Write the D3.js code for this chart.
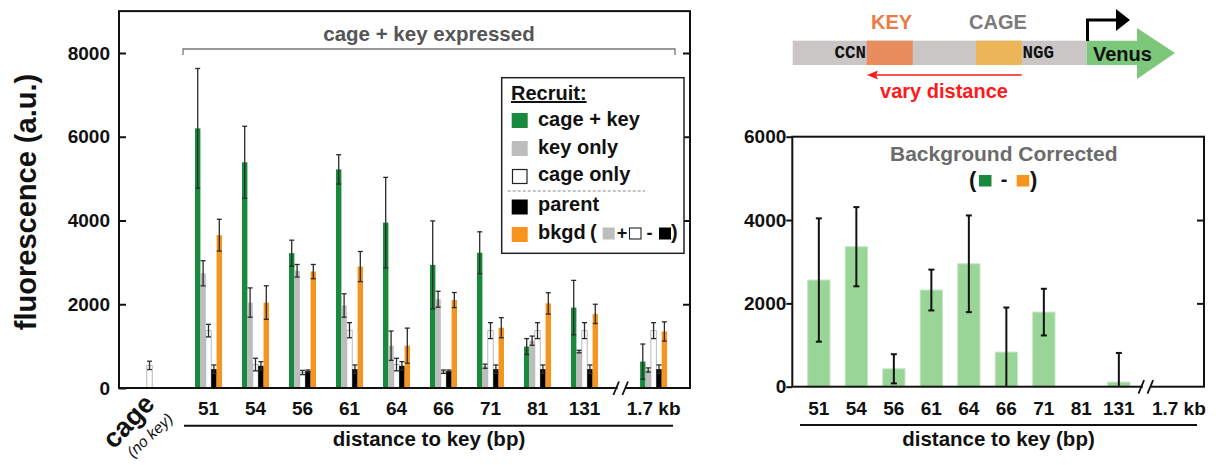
<!DOCTYPE html>
<html>
<head>
<meta charset="utf-8">
<script src="https://cdn.jsdelivr.net/npm/d3@7"></script>
<style>
  body { margin: 0; background: #fff; }
  svg { display: block; }
  text { font-family: "Liberation Sans", Arial, Helvetica, sans-serif; font-weight: bold; }
</style>
</head>
<body>
<svg id="fig" width="1220" height="465"></svg>
<script>
// ---- data ---------------------------------------------------------------
const distances = ["51", "54", "56", "61", "64", "66", "71", "81", "131", "1.7 kb"];
const seriesNames = ["cage + key", "key only", "cage only", "parent", "bkgd"];

const cageKey     = [6200, 5390, 3220, 5220, 3950, 2940, 3230,  990, 1920,  630];
const cageKeyErr  = [1430,  860,  310,  350, 1080, 1050,  500,  190,  650,  420];
const keyOnly     = [2740, 2040, 2800, 1970, 1010, 2120,  520, 1130,  870,  430];
const keyOnlyErr  = [ 300,  350,  150,  280,  350,  190,   50,  110,   30,   50];
const cageOnly    = [1370,  560,  370, 1380,  560,  390, 1370, 1370, 1370, 1370];
const cageOnlyErr = [ 150,  150,   50,  180,  150,   40,  190,  190,  190,  190];
const parent      = [ 450,  530,  410,  450,  530,  410,  450,  450,  450,  450];
const parentErr   = [ 100,  100,   20,  100,  100,   20,  100,  100,  100,  100];
const bkgd        = [3650, 2040, 2780, 2900, 1010, 2100, 1440, 2020, 1770, 1350];
const bkgdErr     = [ 380,  400,  170,  360,  420,  180,  240,  255,  230,  230];

// cage reporter alone (no key expressed)
const cageAlone = 540;
const cageAloneErr = 100;

// background corrected: (cage + key) - bkgd
const corrected    = [2560, 3360, 430, 2320, 2950,  830, 1790, 0, 110, 0];
const correctedErr = [1480,  950, 350,  490, 1160, 1070,  560, 0, 700, 0];

const yTicksLeft = [0, 2000, 4000, 6000, 8000];
const yTicksRight = [0, 2000, 4000, 6000];

// ---- setup --------------------------------------------------------------
const svg = d3.select("#fig");
const MONO = "\"Liberation Mono\", \"DejaVu Sans Mono\", monospace";

const values = [cageKey, keyOnly, cageOnly, parent, bkgd];
const errors = [cageKeyErr, keyOnlyErr, cageOnlyErr, parentErr, bkgdErr];
const fills = ["#178b3b", "#bdbdbd", "#ffffff", "#000000", "#f7941d"];
const strokes = ["none", "none", "#a8a8a8", "none", "none"];

// slot index of each group along the x axis (gap before the 1.7 kb group)
const slotOf = (i) => (i < 9 ? i : 9.47);
const cageSlot = -1.255;

function errorBar(g, cx, v, e, y, cap, color, width) {
  if (!e) return;
  const lo = Math.max(v - e, 0);
  const yTop = y(v + e), yBot = y(lo);
  g.append("line").attr("x1", cx).attr("x2", cx).attr("y1", yTop).attr("y2", yBot)
    .attr("stroke", color).attr("stroke-width", width);
  g.append("line").attr("x1", cx - cap / 2).attr("x2", cx + cap / 2).attr("y1", yTop).attr("y2", yTop)
    .attr("stroke", color).attr("stroke-width", width);
  if (v - e > 0) {
    g.append("line").attr("x1", cx - cap / 2).attr("x2", cx + cap / 2).attr("y1", yBot).attr("y2", yBot)
      .attr("stroke", color).attr("stroke-width", width);
  }
}

function styleAxis(a) {
  a.select(".domain").remove();
  a.selectAll("line").attr("stroke", "#111").attr("stroke-width", 2);
  a.selectAll("text").style("font-size", "19px").attr("fill", "#111");
}

// ---- left panel ---------------------------------------------------------
const L = { left: 119, right: 690, bottom: 388 };
const yL = d3.scaleLinear().domain([0, 8000]).range([388, 53]);
L.top = yL(9000);
const xL = d3.scaleLinear().domain([0, 1]).range([195, 242]);
const inner = d3.scaleBand().domain(seriesNames).range([0, 27]);

const gL = svg.append("g");

// bars
distances.forEach((d, i) => {
  const x0 = xL(slotOf(i));
  seriesNames.forEach((s, k) => {
    const v = values[k][i];
    gL.append("rect")
      .attr("x", x0 + inner(s))
      .attr("y", yL(v))
      .attr("width", inner.bandwidth())
      .attr("height", yL(0) - yL(v))
      .attr("fill", fills[k])
      .attr("stroke", strokes[k])
      .attr("stroke-width", 0.8);
  });
});
// cage-only control without key
{
  const x0 = xL(cageSlot);
  gL.append("rect")
    .attr("x", x0 + inner("cage only")).attr("y", yL(cageAlone))
    .attr("width", inner.bandwidth()).attr("height", yL(0) - yL(cageAlone))
    .attr("fill", "#fff").attr("stroke", "#a8a8a8").attr("stroke-width", 0.8);
  errorBar(gL, x0 + inner("cage only") + inner.bandwidth() / 2, cageAlone, cageAloneErr, yL, 5, "#333", 1.3);
}
// error bars
distances.forEach((d, i) => {
  const x0 = xL(slotOf(i));
  seriesNames.forEach((s, k) => {
    errorBar(gL, x0 + inner(s) + inner.bandwidth() / 2, values[k][i], errors[k][i], yL, 5, "#2a2a2a", 1.3);
  });
});

// frame and ticks
gL.append("rect").attr("x", L.left).attr("y", L.top)
  .attr("width", L.right - L.left).attr("height", L.bottom - L.top)
  .attr("fill", "none").attr("stroke", "#111").attr("stroke-width", 2);

const axL = gL.append("g").attr("transform", `translate(${L.left},0)`)
  .call(d3.axisLeft(yL).tickValues(yTicksLeft).tickFormat(d3.format("d"))
    .tickSize(-7).tickSizeOuter(0).tickPadding(9));
const axLR = gL.append("g").attr("transform", `translate(${L.right},0)`)
  .call(d3.axisRight(yL).tickValues(yTicksLeft.slice(1)).tickSize(-7).tickSizeOuter(0).tickFormat(""));
styleAxis(axL);
styleAxis(axLR);

// axis break marks
function breakMarks(g, x, y) {
  g.append("rect").attr("x", x - 3).attr("y", y - 2).attr("width", 8).attr("height", 4).attr("fill", "#fff");
  [-4.5, 4.5].forEach(dx => {
    g.append("line").attr("x1", x + dx - 2.8).attr("y1", y + 7).attr("x2", x + dx + 2.8).attr("y2", y - 6.5)
      .attr("stroke", "#111").attr("stroke-width", 1.8);
  });
}
breakMarks(gL, 620.7, L.bottom);

// x labels
distances.forEach((d, i) => {
  gL.append("text").attr("x", xL(slotOf(i)) + 13.5).attr("y", 415)
    .attr("text-anchor", "middle").style("font-size", "19px").attr("fill", "#111").text(d);
});
gL.append("line").attr("x1", 184).attr("x2", 673).attr("y1", 425.7).attr("y2", 425.7)
  .attr("stroke", "#111").attr("stroke-width", 2);
gL.append("text").attr("x", 429).attr("y", 446).attr("text-anchor", "middle")
  .style("font-size", "20.5px").attr("fill", "#111").text("distance to key (bp)");

// control label
gL.append("text").attr("transform", "translate(156,405) rotate(-47)")
  .attr("text-anchor", "end").style("font-size", "27px").attr("fill", "#111").text("cage");
gL.append("text").attr("transform", "translate(174,420) rotate(-43)")
  .attr("text-anchor", "end").style("font-size", "15.5px").style("font-weight", "normal")
  .style("font-style", "italic").attr("fill", "#111").text("(no key)");

// y label
gL.append("text").attr("transform", "translate(36,202) rotate(-90)")
  .attr("text-anchor", "middle").style("font-size", "29px").attr("fill", "#111").text("fluorescence (a.u.)");

// bracket
gL.append("path").attr("d", "M183,55 V49 H675 V55")
  .attr("fill", "none").attr("stroke", "#777").attr("stroke-width", 1.3);
gL.append("text").attr("x", 429).attr("y", 41).attr("text-anchor", "middle")
  .style("font-size", "20.5px").attr("fill", "#555").text("cage + key expressed");

// legend
const lg = gL.append("g");
lg.append("rect").attr("x", 501.7).attr("y", 77.7).attr("width", 182.3).attr("height", 175.6)
  .attr("fill", "#fff").attr("stroke", "#222").attr("stroke-width", 1.5);
lg.append("text").attr("x", 511).attr("y", 100).style("font-size", "20px").attr("fill", "#111")
  .attr("text-decoration", "underline").text("Recruit:");
const legendRows = [
  { name: "cage + key", sy: 113, by: 126 },
  { name: "key only", sy: 141, by: 153.5 },
  { name: "cage only", sy: 169, by: 181 },
  { name: "parent", sy: 199.5, by: 211 },
  { name: "bkgd", sy: 227, by: 239 }
];
legendRows.forEach((r, k) => {
  const white = r.name === "cage only";
  lg.append("rect").attr("x", white ? 512.5 : 511.7).attr("y", white ? r.sy + 0.5 : r.sy)
    .attr("width", white ? 14.5 : 16).attr("height", white ? 14 : 15)
    .attr("fill", fills[k]).attr("stroke", white ? "#222" : "none").attr("stroke-width", 1.2);
  lg.append("text").attr("x", 538).attr("y", r.by).style("font-size", "20px").attr("fill", "#111").text(r.name);
});
lg.append("line").attr("x1", 507.7).attr("x2", 645).attr("y1", 191).attr("y2", 191)
  .attr("stroke", "#888").attr("stroke-width", 1.2).attr("stroke-dasharray", "3,2");
// bkgd formula ( grey + white - black )
lg.append("text").attr("x", 590).attr("y", 239).style("font-size", "20px").attr("fill", "#111").text("(");
lg.append("rect").attr("x", 602.7).attr("y", 227.5).attr("width", 12).attr("height", 12).attr("fill", "#bdbdbd");
lg.append("text").attr("x", 622).attr("y", 239).attr("text-anchor", "middle").style("font-size", "18px").attr("fill", "#111").text("+");
lg.append("rect").attr("x", 629.5).attr("y", 228).attr("width", 11.5).attr("height", 11).attr("fill", "#fff").attr("stroke", "#222").attr("stroke-width", 1.1);
lg.append("text").attr("x", 649.5).attr("y", 239).attr("text-anchor", "middle").style("font-size", "18px").attr("fill", "#111").text("-");
lg.append("rect").attr("x", 659).attr("y", 227.5).attr("width", 12).attr("height", 12).attr("fill", "#000");
lg.append("text").attr("x", 671).attr("y", 239).style("font-size", "20px").attr("fill", "#111").text(")");

// ---- construct diagram (top right) --------------------------------------
const gd = svg.append("g");
gd.append("rect").attr("x", 792.7).attr("y", 40.7).attr("width", 294).attr("height", 24.3).attr("fill", "#cbc6c6");
gd.append("rect").attr("x", 866.7).attr("y", 40.7).attr("width", 46).attr("height", 24.3).attr("fill", "#e98c5e");
gd.append("rect").attr("x", 976).attr("y", 40.7).attr("width", 45.7).attr("height", 24.3).attr("fill", "#ecb558");
gd.append("path").attr("d", "M1086.7,40.7 H1137 V28 L1175,53 L1137,79 V65 H1086.7 Z").attr("fill", "#7cc77a");
gd.append("text").attr("x", 866).attr("y", 58).attr("text-anchor", "end")
  .style("font-family", MONO).style("font-size", "17.5px").attr("fill", "#111").text("CCN");
gd.append("text").attr("x", 1022.5).attr("y", 58)
  .style("font-family", MONO).style("font-size", "17.5px").attr("fill", "#111").text("NGG");
gd.append("text").attr("x", 891.5).attr("y", 29).attr("text-anchor", "middle").style("font-size", "20px")
  .attr("fill", "#f07a45").text("KEY");
gd.append("text").attr("x", 998).attr("y", 29).attr("text-anchor", "middle").style("font-size", "20px")
  .attr("fill", "#7a7a7a").text("CAGE");
gd.append("text").attr("x", 1093).attr("y", 61).style("font-size", "20px").attr("fill", "#111").text("Venus");
// promoter arrow
gd.append("path").attr("d", "M1087.5,41 V20 H1118").attr("fill", "none").attr("stroke", "#000").attr("stroke-width", 3);
gd.append("path").attr("d", "M1116,9 L1130,20 L1116,31 Z").attr("fill", "#000");
// vary distance arrow
gd.append("line").attr("x1", 1021.7).attr("x2", 873).attr("y1", 75).attr("y2", 75).attr("stroke", "#ff1a1a").attr("stroke-width", 1.6);
gd.append("path").attr("d", "M867,75 L878,70.5 L876,75 L878,79.5 Z").attr("fill", "#ff1a1a");
gd.append("text").attr("x", 944).attr("y", 98).attr("text-anchor", "middle").style("font-size", "20px")
  .attr("fill", "#ff1a1a").text("vary distance");

// ---- right panel --------------------------------------------------------
const R = { left: 792.3, right: 1204, top: 136.7, bottom: 386.7 };
const yR = d3.scaleLinear().domain([0, 6000]).range([R.bottom, R.top]);
const xR = d3.scaleLinear().domain([0, 1]).range([807.7, 845.2]);
const barW = 22.3;
const slotR = (i) => (i < 9 ? i : 9.6);

const gR = svg.append("g");
distances.forEach((d, i) => {
  const v = corrected[i];
  if (v > 0) {
    gR.append("rect").attr("x", xR(slotR(i))).attr("y", yR(v))
      .attr("width", barW).attr("height", yR(0) - yR(v))
      .attr("fill", "#99d596").attr("stroke", "#c4e6c1").attr("stroke-width", 1);
  }
});
distances.forEach((d, i) => {
  errorBar(gR, xR(slotR(i)) + barW / 2, corrected[i], correctedErr[i], yR, 6, "#111", 2);
});

gR.append("rect").attr("x", R.left).attr("y", R.top)
  .attr("width", R.right - R.left).attr("height", R.bottom - R.top)
  .attr("fill", "none").attr("stroke", "#111").attr("stroke-width", 2);
const axR = gR.append("g").attr("transform", `translate(${R.left},0)`)
  .call(d3.axisLeft(yR).tickValues(yTicksRight).tickFormat(d3.format("d"))
    .tickSize(6).tickSizeOuter(0).tickPadding(0));
const axRR = gR.append("g").attr("transform", `translate(${R.right},0)`)
  .call(d3.axisRight(yR).tickValues(yTicksRight.slice(1, 3)).tickSize(-7).tickSizeOuter(0).tickFormat(""));
styleAxis(axR);
styleAxis(axRR);
breakMarks(gR, 1145.8, R.bottom);

distances.forEach((d, i) => {
  gR.append("text").attr("x", xR(slotR(i)) + barW / 2).attr("y", 415)
    .attr("text-anchor", "middle").style("font-size", "19px").attr("fill", "#111").text(d);
});
gR.append("line").attr("x1", 800).attr("x2", 1197).attr("y1", 425).attr("y2", 425)
  .attr("stroke", "#111").attr("stroke-width", 2);
gR.append("text").attr("x", 998.5).attr("y", 446).attr("text-anchor", "middle")
  .style("font-size", "20.5px").attr("fill", "#111").text("distance to key (bp)");

gR.append("text").attr("x", 1003.8).attr("y", 160.5).attr("text-anchor", "middle")
  .style("font-size", "21px").attr("fill", "#6b6b6b").text("Background Corrected");
gR.append("text").attr("x", 969).attr("y", 187).style("font-size", "22px").attr("fill", "#111").text("(");
gR.append("rect").attr("x", 979).attr("y", 175).attr("width", 12.5).attr("height", 11.5).attr("fill", "#178b3b");
gR.append("text").attr("x", 1004).attr("y", 186).attr("text-anchor", "middle").style("font-size", "20px").attr("fill", "#111").text("-");
gR.append("rect").attr("x", 1016.7).attr("y", 175).attr("width", 12.5).attr("height", 11.5).attr("fill", "#f7941d");
gR.append("text").attr("x", 1030).attr("y", 187).style("font-size", "22px").attr("fill", "#111").text(")");
</script>
</body>
</html>
